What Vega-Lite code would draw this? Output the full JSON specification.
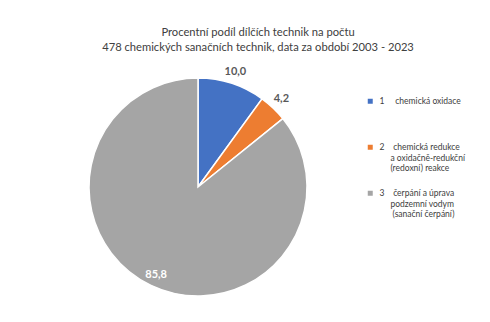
{
  "$schema": "https://vega.github.io/schema/vega-lite/v6.json",
  "autosize": "none",
  "padding": {"left": 11, "top": 58, "right": 105, "bottom": 6},
  "width": 374,
  "height": 258,
  "background": "white",
  "title": {
    "text": ["Procentní podíl  dílčích technik na počtu", "478 chemických sanačních technik, data za období 2003 - 2023"],
    "anchor": "middle",
    "frame": "group",
    "dx": 60,
    "offset": 5,
    "font": "Lato",
    "fontSize": 11.2,
    "fontWeight": "normal",
    "color": "#404040",
    "lineHeight": 15
  },
  "data": {
    "values": [
      {"technika": "1", "podil": 10.0},
      {"technika": "2", "podil": 4.2},
      {"technika": "3", "podil": 85.8}
    ]
  },
  "encoding": {
    "theta": {"field": "podil", "type": "quantitative", "stack": true},
    "order": {"field": "technika", "type": "ordinal", "sort": "ascending"}
  },
  "layer": [
    {
      "mark": {"type": "arc", "outerRadius": 109, "stroke": "white", "strokeWidth": 1.5},
      "encoding": {
        "color": {
          "field": "technika",
          "type": "nominal",
          "scale": {"domain": ["1", "2", "3"], "range": ["#4472C4", "#ED7D31", "#A5A5A5"]},
          "legend": {
            "orient": "none",
            "legendX": 355,
            "legendY": 39,
            "title": null,
            "symbolType": "square",
            "symbolSize": 25,
            "symbolStrokeWidth": 0,
            "labelFont": "Lato",
            "labelFontSize": 8.5,
            "labelColor": "#404040",
            "labelLineHeight": 12,
            "labelOffset": 5,
            "labelLimit": 200,
            "rowPadding": 16,
            "labelExpr": "datum.value == '1' ? ['1\u00a0\u00a0\u00a0\u00a0\u00a0chemická oxidace', '\u200b', '\u200b'] : datum.value == '2' ? ['2\u00a0\u00a0\u00a0\u00a0chemická redukce', '\u200b\u00a0\u00a0\u00a0\u00a0\u00a0a oxidačně-redukční', '\u200b\u00a0\u00a0\u00a0\u00a0\u00a0(redoxní) reakce'] : ['3\u00a0\u00a0\u00a0\u00a0čerpání a úprava', '\u200b\u00a0\u00a0\u00a0\u00a0\u00a0podzemní vodym', '\u200b\u00a0\u00a0\u00a0\u00a0\u00a0\u00a0(sanační čerpání)']"
          }
        }
      }
    },
    {
      "mark": {"type": "text", "radius": 121, "font": "Lato", "fontSize": 11, "fontWeight": "bold", "fill": "#595959"},
      "encoding": {
        "text": {"condition": {"test": "datum.podil < 50", "field": "podil", "type": "quantitative", "format": ".1f"}, "value": ""}
      }
    },
    {
      "mark": {"type": "text", "radius": 97, "font": "Lato", "fontSize": 11, "fontWeight": "bold", "fill": "white"},
      "encoding": {
        "text": {"condition": {"test": "datum.podil >= 50", "field": "podil", "type": "quantitative", "format": ".1f"}, "value": ""}
      }
    }
  ],
  "config": {
    "view": {"stroke": null},
    "locale": {"number": {"decimal": ",", "thousands": "\u00a0", "grouping": [3], "currency": ["", " Kč"]}}
  }
}
